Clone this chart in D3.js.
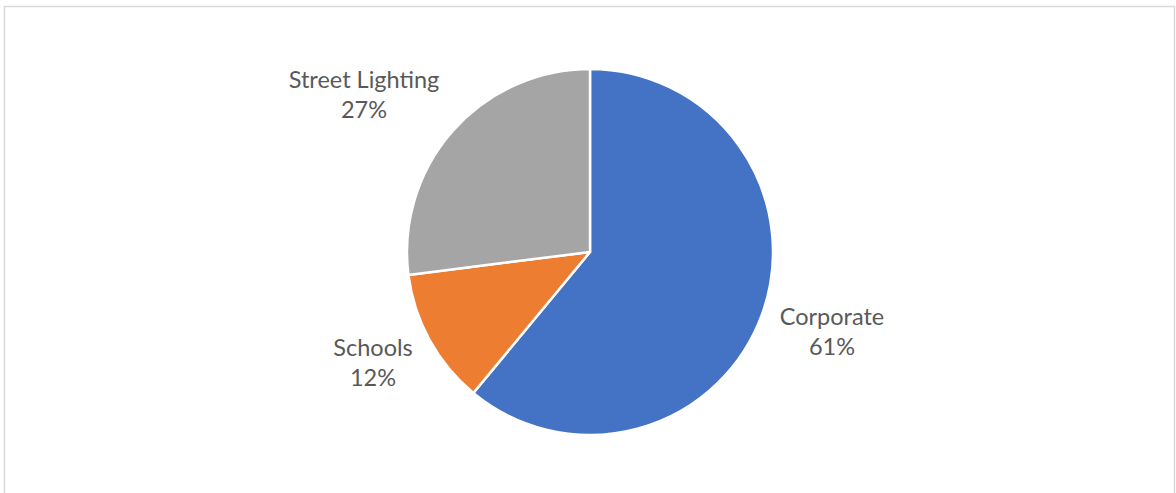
<!DOCTYPE html>
<html>
<head>
<meta charset="utf-8">
<script src="https://cdn.jsdelivr.net/npm/d3@7"></script>
<style>
  html, body { margin: 0; padding: 0; background: #fff; }
  svg { display: block; }
</style>
</head>
<body>
<svg id="chart" width="1176" height="493"></svg>
<script>
// Share of spend by category (percent)
const categories = ["Corporate", "Schools", "Street Lighting"];
const shares = [61, 12, 27];
const colors = ["#4472C4", "#ED7D31", "#A5A5A5"];

const width = 1176, height = 493;
const cx = 590, cy = 252, radius = 183;

const svg = d3.select("#chart");

// chart area frame
svg.append("rect")
  .attr("x", 4.5).attr("y", 6.5)
  .attr("width", 1170).attr("height", 500)
  .attr("fill", "#fff")
  .attr("stroke", "#d9d9d9")
  .attr("stroke-width", 1.5);

const data = categories.map((c, i) => ({ name: c, value: shares[i], color: colors[i] }));

const pie = d3.pie().value(d => d.value).sort(null);
const arcs = pie(data);
const arc = d3.arc().innerRadius(0).outerRadius(radius);

const g = svg.append("g").attr("transform", `translate(${cx},${cy})`);

g.selectAll("path")
  .data(arcs)
  .join("path")
  .attr("d", arc)
  .attr("fill", d => d.data.color)
  .attr("stroke", "#fff")
  .attr("stroke-width", 2.5)
  .attr("stroke-linejoin", "round");

// Outside labels: category name over percentage
const labelPos = {
  "Corporate": [832, 317],
  "Schools": [373, 348],
  "Street Lighting": [364, 80]
};

const labels = svg.append("g")
  .attr("font-family", "Lato, 'Open Sans', 'Noto Sans', sans-serif")
  .attr("font-size", 23.5)
  .attr("fill", "#595959")
  .attr("text-anchor", "middle");

arcs.forEach(a => {
  const [x, y] = labelPos[a.data.name];
  const t = labels.append("text").attr("x", x).attr("y", y);
  t.append("tspan").attr("x", x).attr("dy", "0.35em").text(a.data.name);
  t.append("tspan").attr("x", x).attr("dy", 30).text(d3.format(".0%")(a.data.value / 100));
});
</script>
</body>
</html>
